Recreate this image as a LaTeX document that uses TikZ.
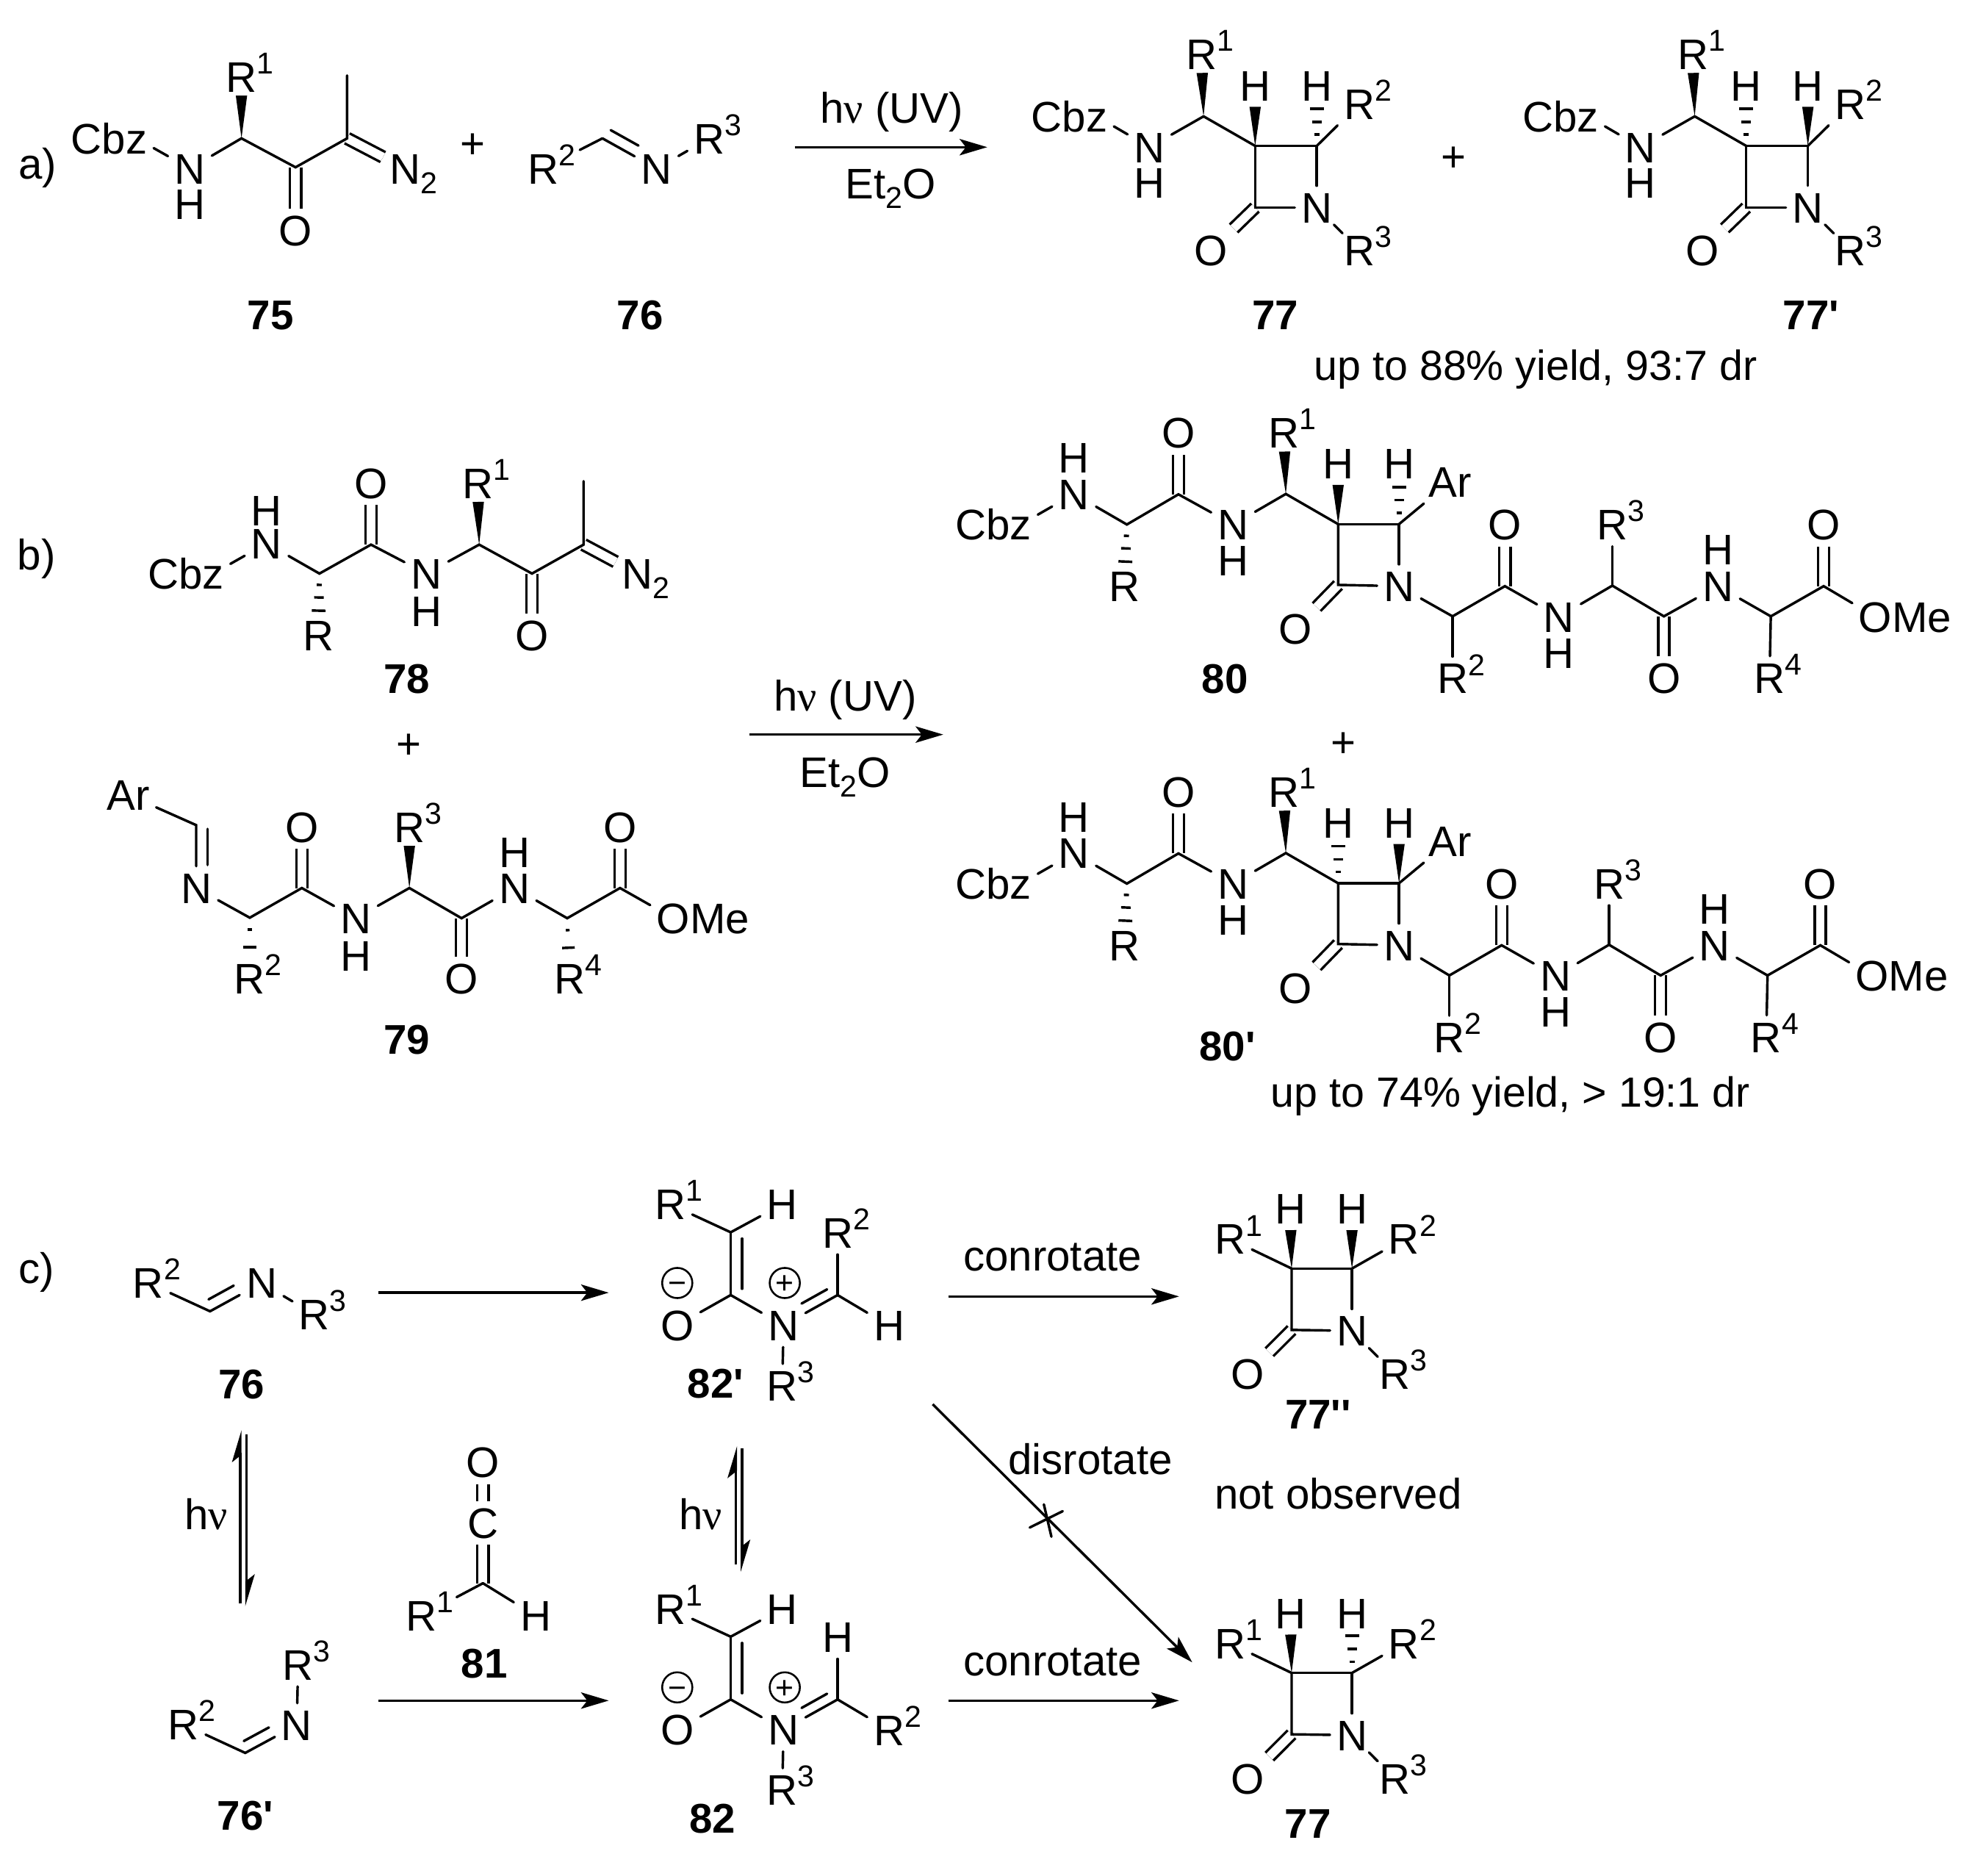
\documentclass[tikz,border=0pt]{standalone}
\usepackage{fontspec}
\setmainfont{Liberation Sans}
\newfontfamily\nufont{Liberation Serif}
\usetikzlibrary{arrows.meta,calc}

\newcommand{\supfont}{\fontsize{24}{24}\selectfont}
\newcommand{\Rn}[1]{R\rlap{\raisebox{14.5pt}{\supfont #1}}}
\newcommand{\Ntwo}{N\rlap{\raisebox{-7.5pt}{\supfont 2}}}
\newcommand{\hnu}{h{\nufont ν}}
\newcommand{\ethr}{Et\raisebox{-7.5pt}{\supfont 2}O}
\newcommand{\qq}{\textquotesingle}

\tikzset{
  bond/.style={line width=2pt,line cap=round},
  dbond/.style={line width=2pt,double,double distance=6.8pt},
  offbond/.style={bond,transform canvas={shift={(#1)}},shorten <=3pt,shorten >=1pt},
  rxn/.style={line width=2pt,-{Stealth[length=22pt,width=13pt,inset=5pt]}},
  eqm/.style={line width=2pt,-{Stealth[harpoon,length=22pt,width=13pt,inset=5pt]}},
  cmpd/.style={font=\fontsize{33}{40}\selectfont\bfseries},
  charge/.style={circle,draw,line width=1.5pt,minimum size=24pt,inner sep=0pt,
    text height=17.5pt,font=\fontsize{25}{26}\selectfont},
}

\newcommand{\wedgebond}[3][15pt]{\fill (#2) -- ($(#3)!#1!(#2)!4.5pt!90:(#2)$) -- ($(#3)!#1!(#2)!4.5pt!-90:(#2)$) -- cycle;}
\newcommand{\hashbond}[3][9/2,19/3.8,29.5/5.5]{
  \foreach \d/\w in {#1}
    \draw[line width=2pt] ($(#2)!\d pt!(#3)!\w pt!90:(#3)$) -- ($(#2)!\d pt!(#3)!\w pt!-90:(#3)$);
}

% beta-lactam with the Cbz-NH side chain: #1 and #2 are the bonds to the two H
\newcommand{\chainlactam}[2]{
  \coordinate (cn) at (957,92.5);
  \coordinate (c3) at (998,116);
  \coordinate (c4) at (1047,116);
  \coordinate (c2) at (998,165);
  \node (cbz) at (872,92.5) {\llap{Cb}z};
  \node (nh) at (914,117) {N};
  \node (hn) at (914,145) {H};
  \node (r1) at (955.5,43) {\Rn{1}};
  \node (h3) at (998,68) {H};
  \node (h4) at (1047,68) {H};
  \node (r2) at (1081,82.5) {\Rn{2}};
  \node (n2) at (1047,165) {N};
  \node (oo) at (963,199) {O};
  \node (r3) at (1081,199) {\Rn{3}};
  \draw[dbond] (c2) -- (oo);
  \draw[bond] (cbz) -- (nh);
  \draw[bond] (nh) -- (cn);
  \draw[bond] (cn) -- (c3);
  \draw[bond] (c3) -- (c4) -- (n2);
  \draw[bond] (c3) -- (c2) -- (n2);
  \draw[bond] (c4) -- (r2);
  \draw[bond] ($(n2)!.4!(r3)$) -- ($(n2)!.6!(r3)$);
  \wedgebond{cn}{r1}
  #1{c3}{h3}
  #2{c4}{h4}
}

% bare beta-lactam of part c)
\newcommand{\barelactam}[1]{
  \coordinate (c3) at (1027,1008.5);
  \coordinate (c4) at (1075,1008.5);
  \coordinate (c2) at (1027,1057.3);
  \node (r1) at (978,985) {\Rn{1}};
  \node (h3) at (1026,961) {H};
  \node (h4) at (1075,961) {H};
  \node (r2) at (1116.4,985) {\Rn{2}};
  \node (n2) at (1075,1058) {N};
  \node (oo) at (992,1092.4) {O};
  \node (r3) at (1109,1092.4) {\Rn{3}};
  \draw[dbond] (c2) -- (oo);
  \draw[bond] (r1) -- (c3);
  \draw[bond] (c3) -- (c4) -- (n2);
  \draw[bond] (c3) -- (c2) -- (n2);
  \draw[bond] (c4) -- (r2);
  \draw[bond] ($(n2)!.4!(r3)$) -- ($(n2)!.6!(r3)$);
  \wedgebond[17pt]{c3}{h3}
  #1{c4}{h4}
}

% beta-lactam peptide: #1 and #2 are the bonds to the two H, #3 moves the right chain
\newcommand{\peptlactam}[3]{
  \coordinate (ca) at (896,417);
  \coordinate (cb) at (937,393);
  \coordinate (cc) at (1022.4,392.7);
  \coordinate (c3) at (1064,416.7);
  \coordinate (c4) at (1112.4,416.7);
  \coordinate (c2) at (1064,465);
  \node (cbz) at (811.5,417) {\llap{Cb}z};
  \node (n1) at (854,392.7) {N};
  \node (h1) at (854,364) {H};
  \node (rr) at (894,466) {R};
  \node (o1) at (937,344) {O};
  \node (n2) at (980.5,417) {N};
  \node (h2) at (980.5,445.5) {H};
  \node (r1) at (1021,344) {\Rn{1}};
  \node (h3) at (1064,368.5) {H};
  \node (h4) at (1112.4,368.5) {H};
  \node (ar) at (1153,383) {Ar};
  \node (n3) at (1112.4,466) {N};
  \node (o2) at (1030,500) {O};
  \draw[dbond] (cb) -- (o1);
  \draw[dbond] (c2) -- (o2);
  \draw[bond] (cbz) -- (n1);
  \draw[bond] (n1) -- (ca) -- (cb) -- (n2);
  \draw[bond] (n2) -- (cc) -- (c3);
  \draw[bond] (c3) -- (c4) -- (n3);
  \draw[bond] (c3) -- (c2) -- (n3);
  \draw[bond] (c4) -- (ar);
  \hashbond{ca}{rr}
  \wedgebond{cc}{r1}
  #1{c3}{h3}
  #2{c4}{h4}
  \begin{scope}[shift={(#3,0)}]
    \coordinate (cd) at (1155,490);
    \coordinate (ce) at (1196.6,466);
    \coordinate (cf) at (1282,465.6);
    \coordinate (cg) at (1323,490);
    \coordinate (ch) at (1408,490);
    \coordinate (ci) at (1450,466);
    \node (r2) at (1155,539.3) {\Rn{2}};
    \node (o3) at (1196.6,417) {O};
    \node (n4) at (1239.5,490.4) {N};
    \node (h5) at (1239.5,519) {H};
    \node (r3) at (1282,417) {\Rn{3}};
    \node (o4) at (1323,539.3) {O};
    \node (n5) at (1366,466) {N};
    \node (h6) at (1366,436.7) {H};
    \node (r4) at (1407,539) {\Rn{4}};
    \node (o5) at (1450,417) {O};
    \node (ome) at (1491.2,490.4) {O\rlap{Me}};
    \draw[dbond] (ce) -- (o3);
    \draw[dbond] (cg) -- (o4);
    \draw[dbond] (ci) -- (o5);
    \draw[bond] (cd) -- (r2);
    \draw[bond] (cd) -- (ce) -- (n4);
    \draw[bond] (n4) -- (cf) -- (cg) -- (n5);
    \draw[bond] (cf) -- (r3);
    \draw[bond] (n5) -- (ch) -- (ci) -- (ome);
    \draw[bond] (ch) -- (r4);
  \end{scope}
  \draw[bond] (n3) -- (cd);
}

% zwitterion of part c): #1 is the label on top, #2 the label on the right
\newcommand{\zwitterion}[2]{
  \coordinate (cu) at (581,979.7);
  \coordinate (cl) at (581,1029.6);
  \coordinate (cr) at (666,1029.6);
  \node (r1) at (533,957.5) {\Rn{1}};
  \node (hh) at (622,957.5) {H};
  \node (oo) at (538.5,1053.6) {O};
  \node[charge] (mi) at (538.5,1020) {−};
  \node (nn) at (623,1053.6) {N};
  \node[charge] (pl) at (624,1020) {+};
  \node (up) at (666,980) {#1};
  \node (rt) at (707,1054) {#2};
  \node (r3) at (622,1101.6) {\Rn{3}};
  \draw[bond] (r1) -- (cu) -- (hh);
  \draw[bond] (cu) -- (cl);
  \draw[offbond={9,0},shorten <=5pt,shorten >=5pt] (cu) -- (cl);
  \draw[bond] (oo) -- (cl) -- (nn);
  \draw[bond] (cr) -- (nn);
  \draw[offbond={-4,-7},shorten <=5pt] (cr) -- (nn);
  \draw[bond] (cr) -- (up);
  \draw[bond] (cr) -- (rt);
  \draw[bond] (nn) -- (r3);
}

\begin{document}
\begin{tikzpicture}[x=1pt,y=-1pt,every node/.style={font=\fontsize{34}{40}\selectfont,inner sep=5pt,text height=24.3pt,text depth=0pt}]
  \useasboundingbox (0,0) rectangle (1568,1491);

  % part a)
  \node (laba) at (30,130) {a)};
  \begin{scope}[name prefix=m75-]
    \coordinate (ca) at (192,110);
    \coordinate (cb) at (235,133);
    \coordinate (cc) at (276,110);
    \coordinate (me) at (276,60);
    \node (cbz) at (108.5,110) {\llap{Cb}z};
    \node (nh) at (151,134) {N};
    \node (hn) at (151,162) {H};
    \node (r1) at (192,61) {\Rn{1}};
    \node (oo) at (235,183) {O};
    \node (n2) at (322,134) {\Ntwo};
    \draw[dbond] (cb) -- (oo);
    \draw[dbond] (cc) -- (n2);
    \draw[bond] (cbz) -- (nh);
    \draw[bond] (nh) -- (ca) -- (cb) -- (cc) -- (me);
    \wedgebond{ca}{r1}
  \end{scope}
  \node (plusa) at (376,114) {+};
  \begin{scope}[name prefix=m76-]
    \coordinate (cc) at (479,110);
    \node (r2) at (432,134) {\Rn{2}};
    \node (nn) at (522,134) {N};
    \node (r3) at (564,110) {\Rn{3}};
    \draw[bond,shorten >=13pt] (cc) -- (r2);
    \draw[bond] (cc) -- (nn);
    \draw[offbond={4,-8}] (cc) -- (nn);
    \draw[bond] (nn) -- (r3);
  \end{scope}
  \node[cmpd] (l75) at (215,250) {75};
  \node[cmpd] (l76) at (509,250) {76};
  \coordinate (ara1) at (632,117);
  \coordinate (ara2) at (785,117);
  \draw[rxn] (ara1) -- (ara2);
  \node (hva) at (709,85.5) {\hnu{} (UV)};
  \node (eta) at (708,146) {\ethr};
  \begin{scope}[name prefix=m77-]
    \chainlactam{\wedgebond[17pt]}{\hashbond}
  \end{scope}
  \node (plusb) at (1156,124) {+};
  \begin{scope}[shift={(390.5,0)},name prefix=m77p-]
    \chainlactam{\hashbond}{\wedgebond[17pt]}
  \end{scope}
  \node[cmpd] (l77) at (1014,250) {77};
  \node[cmpd] (l77p) at (1440,250) {77\qq};
  \node[font=\fontsize{33.5}{40}\selectfont] (yielda) at (1221,290) {up to 88\% yield, 93:7 dr};

  % part b)
  \node (labb) at (29,441) {b)};
  \begin{scope}[name prefix=m78-]
    \coordinate (ca) at (254,456);
    \coordinate (cb) at (295,433);
    \coordinate (cc) at (381,433);
    \coordinate (cd) at (423,456);
    \coordinate (ce) at (464,433);
    \coordinate (me) at (464,382.5);
    \node (cbz) at (169.5,456) {\llap{Cb}z};
    \node (n1) at (212,432) {N};
    \node (h1) at (212,406) {H};
    \node (rr) at (253,505) {R};
    \node (o1) at (295,384) {O};
    \node (n2) at (339,456) {N};
    \node (h2) at (339,486) {H};
    \node (r1) at (380,384) {\Rn{1}};
    \node (o2) at (423,505) {O};
    \node (n3) at (507,456) {\Ntwo};
    \draw[dbond] (cb) -- (o1);
    \draw[dbond] (cd) -- (o2);
    \draw[dbond] (ce) -- (n3);
    \draw[bond] (cbz) -- (n1);
    \draw[bond] (n1) -- (ca) -- (cb) -- (n2);
    \draw[bond] (n2) -- (cc) -- (cd) -- (ce) -- (me);
    \hashbond{ca}{rr}
    \wedgebond{cc}{r1}
  \end{scope}
  \node[cmpd] (l78) at (323.5,539) {78};
  \node (plusc) at (325,591) {+};
  \begin{scope}[name prefix=m79-]
    \coordinate (ci) at (156,656);
    \coordinate (ca) at (198.6,729.6);
    \coordinate (cb) at (240,706);
    \coordinate (cc) at (325.5,706);
    \coordinate (cd) at (367,730);
    \coordinate (ce) at (451,730);
    \coordinate (cf) at (493,706);
    \node (ar) at (102,632) {Ar};
    \node (n1) at (156,706) {N};
    \node (r2) at (198.6,778) {\Rn{2}};
    \node (o1) at (240,657.5) {O};
    \node (n2) at (283,730) {N};
    \node (h2) at (283,760) {H};
    \node (r3) at (325.5,657.5) {\Rn{3}};
    \node (o2) at (367,778) {O};
    \node (n3) at (409,706) {N};
    \node (h3) at (409,677.6) {H};
    \node (r4) at (453,778) {\Rn{4}};
    \node (o3) at (493,657.5) {O};
    \node (ome) at (535.4,730) {O\rlap{Me}};
    \draw[dbond] (cb) -- (o1);
    \draw[dbond] (cd) -- (o2);
    \draw[dbond] (cf) -- (o3);
    \draw[bond] (ar) -- (ci) -- (n1);
    \draw[offbond={9,0}] (ci) -- (n1);
    \draw[bond] (n1) -- (ca) -- (cb) -- (n2);
    \draw[bond] (n2) -- (cc) -- (cd) -- (n3);
    \draw[bond] (n3) -- (ce) -- (cf) -- (ome);
    \hashbond[9.5/1.5,23.5/5]{ca}{r2}
    \wedgebond{cc}{r3}
    \hashbond[9.5/1.5,23.5/5]{ce}{r4}
  \end{scope}
  \node[cmpd] (l79) at (323.5,826) {79};
  \coordinate (arb1) at (596,584);
  \coordinate (arb2) at (750,584);
  \draw[rxn] (arb1) -- (arb2);
  \node (hvb) at (672,553) {\hnu{} (UV)};
  \node (etb) at (672,614) {\ethr};
  \begin{scope}[name prefix=m80-]
    \peptlactam{\wedgebond[17pt]}{\hashbond}{0}
  \end{scope}
  \node[cmpd] (l80) at (974,539) {80};
  \node (plusd) at (1068,590) {+};
  \begin{scope}[shift={(0,285.5)},name prefix=m80p-]
    \peptlactam{\hashbond}{\wedgebond[17pt]}{-2.6}
  \end{scope}
  \node[cmpd] (l80p) at (976,831) {80\qq};
  \node[font=\fontsize{33.5}{40}\selectfont] (yieldb) at (1201,868) {up to 74\% yield, > 19:1 dr};

  % part c)
  \node (labc) at (29,1008) {c)};
  \begin{scope}[name prefix=e76-]
    \coordinate (cc) at (167,1042.5);
    \node (r2) at (118,1020) {\Rn{2}};
    \node (nn) at (208,1020) {N};
    \node (r3) at (250,1045) {\Rn{3}};
    \draw[bond] (r2) -- (cc) -- (nn);
    \draw[offbond={-3.8,-8}] (cc) -- (nn);
    \draw[bond] (nn) -- (r3);
  \end{scope}
  \node[cmpd] (l76e) at (192,1100) {76};
  \coordinate (eqa1) at (191,1275);
  \coordinate (eqa2) at (191,1137);
  \coordinate (eqa3) at (196,1140.5);
  \coordinate (eqa4) at (196,1277);
  \draw[eqm] (eqa1) -- (eqa2);
  \draw[eqm] (eqa3) -- (eqa4);
  \node (hvc) at (164,1204) {\hnu};
  \begin{scope}[name prefix=z76-]
    \coordinate (cc) at (195,1393.6);
    \node (r2) at (146,1371) {\Rn{2}};
    \node (nn) at (236,1371.4) {N};
    \node (r3) at (237,1323.4) {\Rn{3}};
    \draw[bond] (r2) -- (cc) -- (nn);
    \draw[offbond={-3.8,-8}] (cc) -- (nn);
    \draw[bond] (nn) -- (r3);
  \end{scope}
  \node[cmpd] (l76z) at (195,1443) {76\qq};
  \begin{scope}[name prefix=m81-]
    \coordinate (cv) at (384,1258.7);
    \node (oo) at (384,1162.6) {O};
    \node (cm) at (384,1210.7) {C};
    \node (r1) at (335,1284.6) {\Rn{1}};
    \node (hh) at (426,1284.6) {H};
    \draw[dbond] (oo) -- (cm);
    \draw[dbond] (cm) -- (cv);
    \draw[bond,shorten >=12pt] (cv) -- (r1);
    \draw[bond] (cv) -- (hh);
  \end{scope}
  \node[cmpd] (l81) at (385,1322) {81};
  \coordinate (arc1) at (301,1027.7);
  \coordinate (arc2) at (484,1027.7);
  \coordinate (ard1) at (301,1352);
  \coordinate (ard2) at (484,1352);
  \draw[rxn] (arc1) -- (arc2);
  \draw[rxn] (ard1) -- (ard2);
  \begin{scope}[name prefix=z82-]
    \zwitterion{\Rn{2}}{H}
  \end{scope}
  \node[cmpd] (l82p) at (569,1099.5) {82\qq};
  \coordinate (eqb1) at (585,1244);
  \coordinate (eqb2) at (585,1149.7);
  \coordinate (eqb3) at (590,1151.5);
  \coordinate (eqb4) at (590,1249.5);
  \draw[eqm] (eqb1) -- (eqb2);
  \draw[eqm] (eqb3) -- (eqb4);
  \node (hvd) at (557,1204) {\hnu};
  \begin{scope}[shift={(0,321.5)},name prefix=e82-]
    \zwitterion{H}{\Rn{2}}
  \end{scope}
  \node[cmpd] (l82) at (566.6,1445) {82};
  \coordinate (are1) at (754,1030.7);
  \coordinate (are2) at (937.5,1030.7);
  \coordinate (arf1) at (754,1352);
  \coordinate (arf2) at (937.5,1352);
  \draw[rxn] (are1) -- (are2);
  \draw[rxn] (arf1) -- (arf2);
  \node (cona) at (837,998) {conrotate};
  \node (conb) at (837,1320) {conrotate};
  \coordinate (dia1) at (741.6,1116.4);
  \coordinate (dia2) at (948,1321.6);
  \draw[rxn] (dia1) -- (dia2);
  \coordinate (xa1) at (818.8,1214.4);
  \coordinate (xa2) at (845,1201.4);
  \coordinate (xb1) at (830,1196);
  \coordinate (xb2) at (836,1221.7);
  \draw[bond] (xa1) -- (xa2);
  \draw[bond] (xb1) -- (xb2);
  \node (disr) at (867,1160) {disrotate};
  \node (notob) at (1064,1187.6) {not observed};
  \begin{scope}[name prefix=a77-]
    \barelactam{\wedgebond[17pt]}
  \end{scope}
  \node[cmpd] (l77a) at (1048,1124) {77\qq\qq};
  \begin{scope}[shift={(0,321.5)},name prefix=b77-]
    \barelactam{\hashbond}
  \end{scope}
  \node[cmpd] (l77b) at (1040,1449) {77};
\end{tikzpicture}
\end{document}
